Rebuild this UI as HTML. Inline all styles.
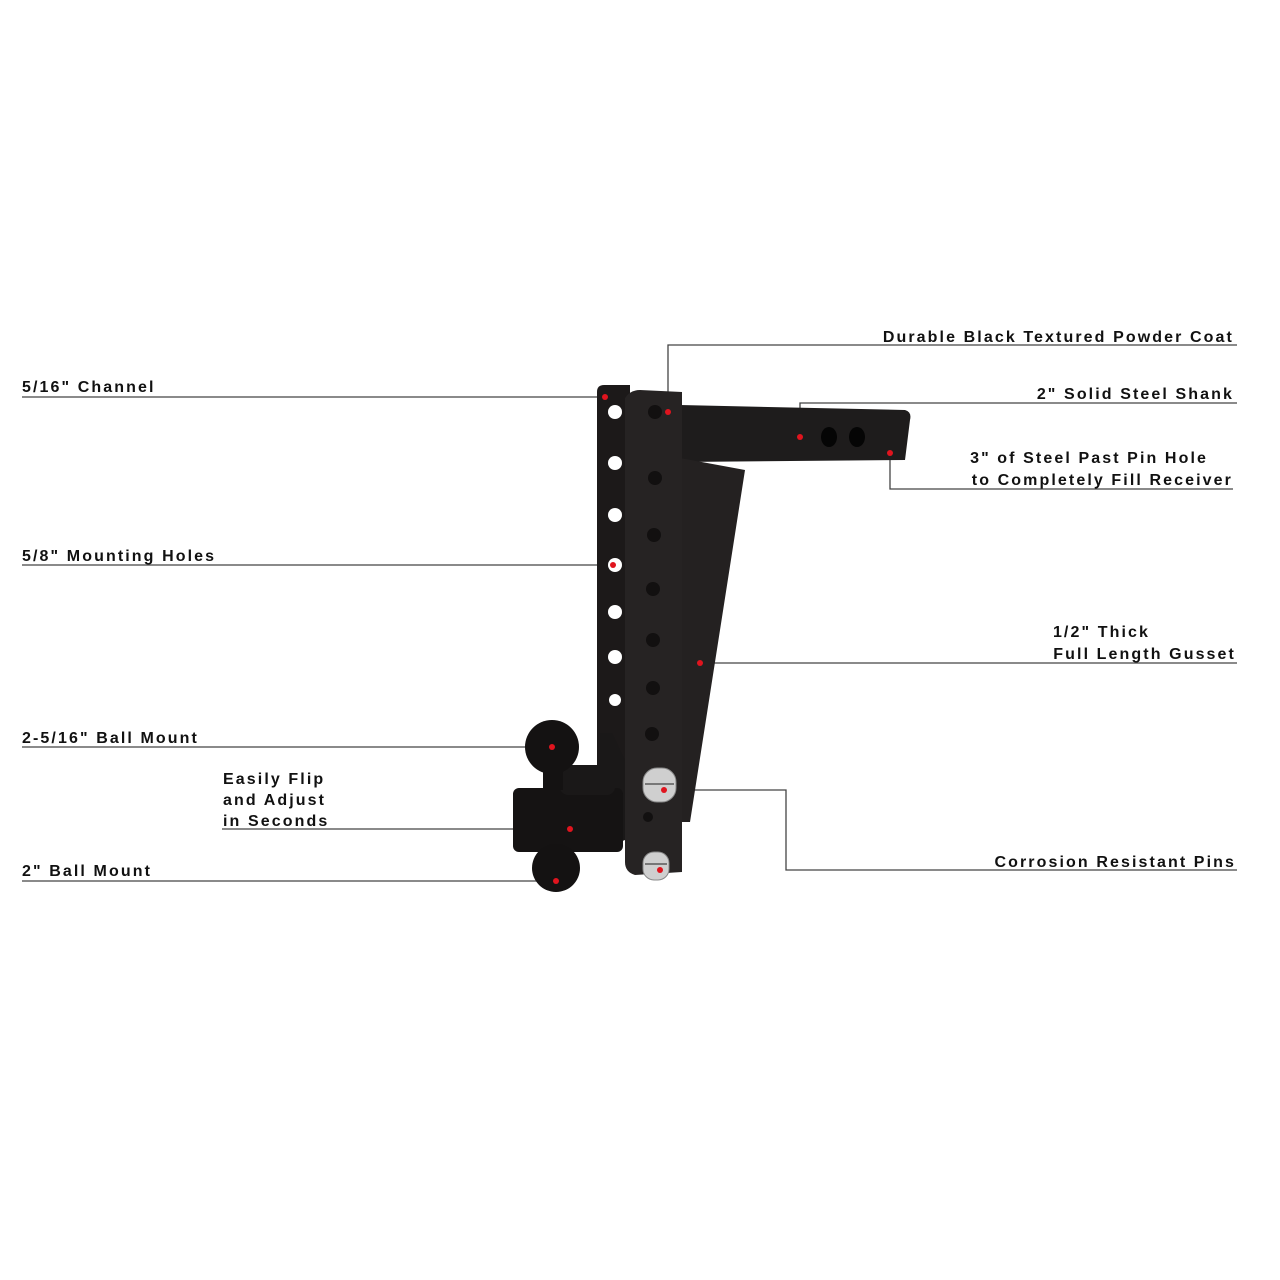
<!DOCTYPE html>
<html><head><style>
html,body{margin:0;padding:0;background:#fff;}
svg{display:block}
text{font-family:"Liberation Sans",sans-serif;font-weight:bold;font-size:16px;letter-spacing:2.1px;fill:#111}
</style></head><body>
<svg width="1280" height="1280" viewBox="0 0 1280 1280">
<rect width="1280" height="1280" fill="#fff"/>
<g stroke="#444" stroke-width="1.3" fill="none">
<polyline points="22,397 605,397"/>
<polyline points="22,565 613,565"/>
<polyline points="22,747 550,747"/>
<polyline points="222,829 568,829"/>
<polyline points="22,881 556,881"/>
<polyline points="1237,345 668,345 668,412"/>
<polyline points="1237,403 800,403 800,437"/>
<polyline points="1233,489 890,489 890,453"/>
<polyline points="1237,663 700,663"/>
<polyline points="664,790 786,790 786,870 1237,870"/>
</g>
<path d="M597,392 Q597,385 604,385 L630,385 L630,790 L605,790 L597,780 Z" fill="#1c1919"/>
<g fill="#fff">
<circle cx="615" cy="412" r="7"/><circle cx="615" cy="463" r="7"/><circle cx="615" cy="515" r="7"/>
<circle cx="615" cy="565" r="7"/><circle cx="615" cy="612" r="7"/><circle cx="615" cy="657" r="7"/><circle cx="615" cy="700" r="6"/>
</g>
<path d="M680,405 L905,410 Q912,412 910,420 L905,460 L680,462 Z" fill="#1e1c1c"/>
<ellipse cx="829" cy="437" rx="8" ry="10" fill="#050505"/>
<ellipse cx="857" cy="437" rx="8" ry="10" fill="#050505"/>
<polygon points="680,458 745,470 690,822 680,822" fill="#242121"/>
<path d="M625,398 Q630,390 640,390 L682,392 L682,872 L635,875 Q625,872 625,862 Z" fill="#262323"/>
<g fill="#121010">
<circle cx="655" cy="412" r="7"/><circle cx="655" cy="478" r="7"/><circle cx="654" cy="535" r="7"/>
<circle cx="653" cy="589" r="7"/><circle cx="653" cy="640" r="7"/><circle cx="653" cy="688" r="7"/>
<circle cx="652" cy="734" r="7"/><circle cx="648" cy="817" r="5"/>
</g>
<path d="M600,733 L612,733 L625,760 L625,840 L600,850 Z" fill="#1a1818"/>
<rect x="513" y="788" width="110" height="64" rx="6" fill="#151313"/>
<rect x="560" y="765" width="55" height="30" rx="8" fill="#1a1818"/>
<circle cx="552" cy="747" r="27" fill="#141212"/>
<rect x="543" y="770" width="20" height="20" fill="#141212"/>
<circle cx="556" cy="868" r="24" fill="#141212"/>
<rect x="643" y="768" width="33" height="34" rx="14" fill="#cfcfcf" stroke="#888"/>
<line x1="645" y1="784" x2="674" y2="784" stroke="#777" stroke-width="2"/>
<rect x="643" y="852" width="26" height="28" rx="11" fill="#cfcfcf" stroke="#888"/>
<line x1="645" y1="864" x2="667" y2="864" stroke="#777" stroke-width="2"/>
<g fill="#e0141e">
<circle cx="605" cy="397" r="3"/><circle cx="613" cy="565" r="3"/><circle cx="668" cy="412" r="3"/>
<circle cx="800" cy="437" r="3"/><circle cx="890" cy="453" r="3"/><circle cx="700" cy="663" r="3"/>
<circle cx="552" cy="747" r="3"/><circle cx="570" cy="829" r="3"/><circle cx="556" cy="881" r="3"/>
<circle cx="664" cy="790" r="3"/><circle cx="660" cy="870" r="3"/>
</g>
<text x="22" y="392">5/16" Channel</text>
<text x="22" y="561">5/8" Mounting Holes</text>
<text x="22" y="743">2-5/16" Ball Mount</text>
<text x="223" y="784">Easily Flip</text>
<text x="223" y="805">and Adjust</text>
<text x="223" y="826">in Seconds</text>
<text x="22" y="876">2" Ball Mount</text>
<g text-anchor="end">
<text x="1234" y="342">Durable Black Textured Powder Coat</text>
<text x="1234" y="399">2" Solid Steel Shank</text>
<text x="1208" y="463">3" of Steel Past Pin Hole</text>
<text x="1233" y="485">to Completely Fill Receiver</text>
<text x="1150" y="637">1/2" Thick</text>
<text x="1236" y="659">Full Length Gusset</text>
<text x="1236" y="867">Corrosion Resistant Pins</text>
</g>
</svg>
</body></html>
